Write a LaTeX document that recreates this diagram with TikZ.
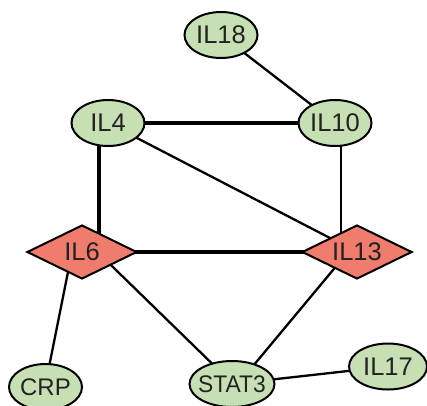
\documentclass[tikz,border=0pt]{standalone}
\usepackage{fontspec}
\setmainfont{Liberation Sans}
\usetikzlibrary{shapes.geometric,calc,backgrounds}
\definecolor{gfill}{HTML}{C6E0B4}
\definecolor{rfill}{HTML}{F07C6E}
\definecolor{txt}{HTML}{222222}
\newcommand{\zb}[1]{\makebox[0pt]{#1}}
\tikzset{
  gene/.style={ellipse,draw=black,line width=2pt,fill=gfill,minimum width=73pt,minimum height=46pt,inner sep=0pt,text=txt,font=\fontsize{25.5}{30}\selectfont},
  hub/.style={diamond,draw=black,line width=2pt,fill=rfill,minimum width=110pt,minimum height=54pt,aspect=2,inner sep=0pt,text=txt,font=\fontsize{25.5}{30}\selectfont},
  thin/.style={line width=2.3pt,draw=black},
  thick/.style={line width=4pt,draw=black}
}
\begin{document}
\begin{tikzpicture}[x=1pt,y=-1pt]
\useasboundingbox (0,0) rectangle (427,405);
\node[gene] (IL18) at (221,35) {\zb{IL18}};
\node[gene] (IL4) at (108,123) {\zb{IL4}};
\node[gene] (IL10) at (335,123) {\zb{IL10}};
\node[hub] (IL6) at (82,252) {IL6};
\node[hub] (IL13) at (357,252) {IL13};
\node[gene,font=\fontsize{24}{28}\selectfont] (CRP) at (45.5,387) {\zb{CRP}};
\node[gene,minimum width=85pt,font=\fontsize{24}{28}\selectfont] (STAT3) at (232,384) {\zb{\scalebox{0.95}[1]{STAT3}}};
\node[gene,minimum width=78pt] (IL17) at (388,366.5) {\zb{IL17}};
\begin{pgfonlayer}{background}
\draw[thin] (IL18.center) -- (IL10.center);
\draw[thick] (IL4.center) -- (IL10.center);
\draw[thin] (IL4.center) -- (IL13.center);
\draw[thin] ([xshift=6pt]IL10.center) -- ([xshift=-16pt]IL13.center);
\draw[thick] ([xshift=-9pt]IL4.center) -- ([xshift=17pt]IL6.center);
\draw[thick] (IL6.center) -- (IL13.center);
\draw[thin] ([xshift=-10pt]IL6.center) -- ([xshift=-0.5pt]CRP.center);
\draw[thin] ([xshift=15.5pt]IL6.center) -- ([xshift=1pt]STAT3.center);
\draw[thin] ([xshift=-9pt]IL13.center) -- ([xshift=6pt]STAT3.center);
\draw[thin] (STAT3.center) -- (IL17.center);
\end{pgfonlayer}
\end{tikzpicture}
\end{document}
